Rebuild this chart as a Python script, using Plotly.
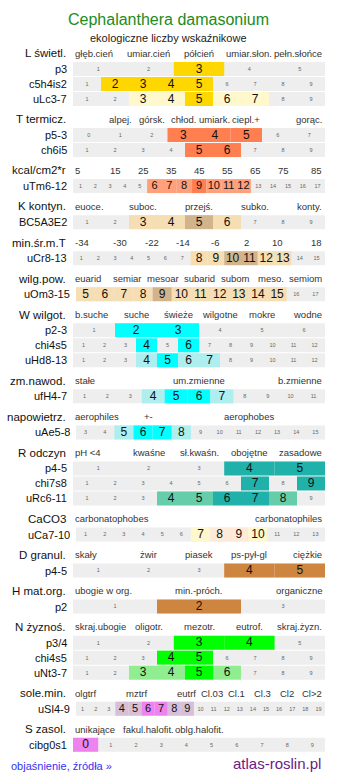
import plotly.graph_objects as go

# ---------------- data ----------------
TITLE = "Cephalanthera damasonium"
SUBTITLE = "ekologiczne liczby wskaźnikowe"

BLOCK_TITLES = ["L świetl.", "T termicz.", "kcal/cm2*r", "K kontyn.", "min.śr.m.T",
                "wilg.pow.", "W wilgot.", "zm.nawod.", "napowietrz.", "R odczyn",
                "CaCO3", "D granul.", "H mat.org.", "N żyznoś.", "sole.min.", "S zasol."]

BLOCK_CATEGORIES = [
    ["głęb.cień", "umiar.cień", "półcień", "umiar.słon.", "pełn.słońce"],
    ["", "alpej.", "górsk.", "chłod.", "umiark.", "ciepl.+", "", "gorąc."],
    ["5", "15", "25", "35", "45", "55", "65", "75", "85"],
    ["euoce.", "", "suboc.", "", "przejś.", "", "subko.", "", "konty."],
    ["-34", "-30", "-22", "-14", "-6", "2", "10", "18"],
    ["euarid", "semiar", "mesoar", "subarid", "subom", "meso.", "semiom"],
    ["b.suche", "suche", "świeże", "wilgotne", "mokre", "wodne"],
    ["stałe", "um.zmienne", "b.zmienne"],
    ["aerophiles", "+-", "", "aerophobes", ""],
    ["pH <4", "kwaśne", "sł.kwaśn.", "obojętne", "zasadowe"],
    ["carbonatophobes", "carbonatophiles"],
    ["skały", "żwir", "piasek", "ps-pył-gl", "ciężkie"],
    ["ubogie w org.", "min.-próch.", "organiczne"],
    ["skraj.ubogie", "oligotr.", "mezotr.", "eutrof.", "skraj.żyzn."],
    ["olgtrf", "", "mztrf", "", "eutrf", "Cl.03", "Cl.1", "Cl.3", "Cl2", "Cl>2"],
    ["unikające", "fakul.halofit.", "oblg.halofit.", "", ""],
]

BLOCK_ROWS = [[0, 1, 2], [3, 4], [5], [6], [7], [8], [9, 10, 11], [12], [13],
              [14, 15, 16], [17], [18], [19], [20, 21, 22], [23], [24]]

ROW_LABELS = ["p3", "c5h4is2", "uLc3-7", "p5-3", "ch6i5", "uTm6-12", "BC5A3E2",
              "uCr8-13", "uOm3-15", "p2-3", "chi4s5", "uHd8-13", "ufH4-7", "uAe5-8",
              "p4-5", "chi7s8", "uRc6-11", "uCa7-10", "p4-5", "p2", "p3/4", "chi4s5",
              "uNt3-7", "uSl4-9", "cibg0s1"]
ROW_SCALE_START = [1, 1, 1, 0, 1, 1, 1, 1, 5, 1, 1, 1, 1, 3, 1, 1, 1, 1, 1, 1, 1, 1, 1, 1, 0]
ROW_SCALE_END = [5, 9, 9, 7, 9, 17, 9, 15, 17, 6, 12, 12, 11, 15, 5, 9, 9, 13, 5, 3, 5, 9, 9, 19, 9]
ROW_STRONG = [[3], [2, 3, 4, 5], [5], [3, 4, 5], [5, 6], [9], [5], [10, 11], [9],
              [2, 3], [4, 6], [5], [5, 6], [6, 7], [4, 5], [7, 9], [6, 7], [8, 9],
              [4, 5], [2], [3, 4], [4, 5], [5], [6, 7], [0]]
ROW_LIGHT = [[], [], [3, 4, 6, 7], [], [], [6, 7, 8, 10, 11, 12], [3, 4, 6], [8, 9, 12, 13],
             [5, 6, 7, 8, 10, 11, 12, 13, 14, 15], [], [], [4, 6, 7], [4, 7], [5, 8],
             [], [], [4, 5, 8], [7, 10], [], [], [], [], [3, 4, 6], [4, 5, 8, 9], []]

# ---------------- style ----------------
PALETTES = {
    "L": ("#ffd700", "#fff8cc"),
    "T": ("#ff7f50", "#ffa07a"),
    "K": ("#d2b48c", "#f5deb3"),
    "W": ("#00ffff", "#afeeee"),
    "R": ("#20b2aa", "#66cdaa"),
    "Ca": ("#ffeada", "#fff8cc"),
    "D": ("#cd853f", "#cd853f"),
    "N": ("#00ff00", "#90ee90"),
    "S": ("#ee82ee", "#d8bfd8"),
}
ROW_PALETTE = ["L", "L", "L", "T", "T", "T", "K", "K", "K", "W", "W", "W", "W", "W",
               "R", "R", "R", "Ca", "D", "D", "N", "N", "N", "S", "S"]
ROW_NARROW = [8, 13, 17, 23]

W, H = 337, 781
X0, X0N, X1 = 73, 76, 325
GRAY = "#eeeeee"
FONT = "Liberation Sans, Arial, sans-serif"
Y_START, HDR_TO_ROW, ROW_PITCH, ROW_TO_HDR, ROW_H = 53.3, 15.7, 15.0, 20.35, 14.0

shapes = []
annotations = []
cx, cy, ctext, csize, ccolor = [], [], [], [], []


def ann(x, y, text, size, color="#000", anchor="center"):
    annotations.append(dict(x=x, y=y, xref="x", yref="y", text=text, showarrow=False,
                            xanchor=anchor, yanchor="middle",
                            font=dict(size=size, color=color, family=FONT)))


y = Y_START
for bi, title in enumerate(BLOCK_TITLES):
    hy = y
    ann(67.5, hy, title, 11.5, "#111", "right")
    cats = BLOCK_CATEGORIES[bi]
    n = len(cats)
    step = (X1 - X0) / n
    for ci, lab in enumerate(cats):
        if not lab:
            continue
        if ci == 0:
            ann(X0 - 0.5, hy, lab, 9.5, "#333", "left")
        elif ci == n - 1:
            ann(X1 - 1.5, hy, lab, 9.5, "#333", "right")
        else:
            ann(X0 + (ci + 0.5) * step, hy, lab, 9.5, "#333", "center")
    rows = BLOCK_ROWS[bi]
    for k, ri in enumerate(rows):
        ry = hy + HDR_TO_ROW + k * ROW_PITCH
        x0 = X0N if ri in ROW_NARROW else X0
        ann(x0 - 4, ry, ROW_LABELS[ri], 11, "#111", "right")
        shapes.append(dict(type="rect", xref="x", yref="y", x0=x0, x1=X1,
                           y0=ry - ROW_H / 2, y1=ry + ROW_H / 2, fillcolor=GRAY,
                           line=dict(width=0), layer="below"))
        s, e = ROW_SCALE_START[ri], ROW_SCALE_END[ri]
        cnt = e - s + 1
        cw = (X1 - x0) / cnt
        strong_c, light_c = PALETTES[ROW_PALETTE[ri]]
        for v in range(s, e + 1):
            left = x0 + (v - s) * cw
            hi = None
            if v in ROW_STRONG[ri]:
                hi = strong_c
            elif v in ROW_LIGHT[ri]:
                hi = light_c
            if hi:
                shapes.append(dict(type="rect", xref="x", yref="y", x0=left, x1=left + cw,
                                   y0=ry - ROW_H / 2, y1=ry + ROW_H / 2, fillcolor=hi,
                                   line=dict(width=0), layer="below"))
            cx.append(left + cw / 2)
            cy.append(ry + 0.5)
            ctext.append(str(v))
            big = 11 if cw < 16 else 12
            csize.append(big if hi else 5.5)
            ccolor.append("#111" if hi else "#666")
    y = hy + HDR_TO_ROW + (len(rows) - 1) * ROW_PITCH + ROW_TO_HDR

fig = go.Figure()
fig.add_trace(go.Scatter(x=cx, y=cy, text=ctext, mode="text", textposition="middle center",
                         textfont=dict(size=csize, color=ccolor, family=FONT),
                         hoverinfo="skip", showlegend=False))

ann(168, 19, TITLE, 16, "#228b22", "center")
ann(168, 38, SUBTITLE, 11, "#222", "center")
ann(9, 765.5, "objaśnienie, źródła »", 11, "#3333ee", "left")
ann(323, 763, "atlas-roslin.pl", 15, "#6a1b8a", "right")

fig.update_layout(
    width=W, height=H, margin=dict(l=0, r=0, t=0, b=0),
    paper_bgcolor="white", plot_bgcolor="white",
    xaxis=dict(range=[0, W], visible=False, fixedrange=True),
    yaxis=dict(range=[H, 0], visible=False, fixedrange=True),
    shapes=shapes, annotations=annotations, showlegend=False,
)
fig.write_html("out.html", config={"displayModeBar": False})
